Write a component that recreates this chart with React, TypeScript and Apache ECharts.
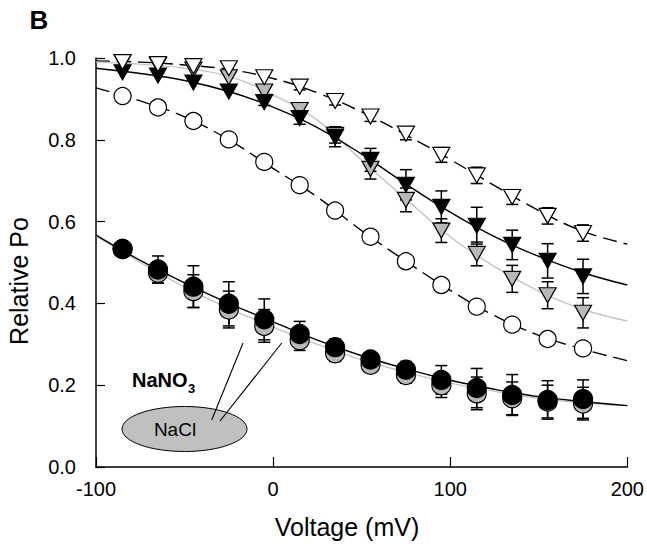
import React, { useEffect, useRef } from "react";
import * as echarts from "echarts";

// Voltages (mV) of measured points
const voltages = [-85, -65, -45, -25, -5, 15, 35, 55, 75, 95, 115, 135, 155, 175];

// Measured relative Po
const openTri = [0.99, 0.985, 0.98, 0.975, 0.953, 0.93, 0.895, 0.857, 0.815, 0.763, 0.713, 0.66, 0.614, 0.572];
const blackTri = [0.965, 0.957, 0.94, 0.918, 0.892, 0.853, 0.807, 0.751, 0.69, 0.636, 0.59, 0.543, 0.504, 0.466];
const grayTri = [0.99, 0.983, 0.972, 0.953, 0.918, 0.873, 0.812, 0.729, 0.653, 0.578, 0.521, 0.46, 0.42, 0.377];
const openCirc = [0.907, 0.879, 0.846, 0.801, 0.746, 0.689, 0.627, 0.563, 0.503, 0.445, 0.392, 0.348, 0.313, 0.29];
const blackCirc = [0.533, 0.483, 0.441, 0.399, 0.361, 0.325, 0.293, 0.263, 0.238, 0.213, 0.193, 0.176, 0.164, 0.166];
const grayCirc = [0.533, 0.475, 0.43, 0.385, 0.345, 0.31, 0.278, 0.25, 0.225, 0.2, 0.18, 0.168, 0.16, 0.155];

// Error bars (±)
const openTriErr = [0, 0, 0, 0, 0, 0.008, 0.01, 0.012, 0.015, 0.018, 0.02, 0.018, 0.02, 0.02];
const blackTriErr = [0, 0, 0, 0, 0.008, 0.015, 0.024, 0.028, 0.037, 0.039, 0.045, 0.036, 0.042, 0.042];
const grayTriErr = [0, 0, 0, 0, 0.008, 0.012, 0.02, 0.025, 0.029, 0.029, 0.029, 0.033, 0.033, 0.037];
const blackCircErr = [0, 0.033, 0.051, 0.054, 0.05, 0.031, 0.02, 0.015, 0.02, 0.035, 0.048, 0.05, 0.047, 0.047];
const grayCircErr = [0, 0.025, 0.04, 0.045, 0.04, 0.025, 0.02, 0.015, 0.02, 0.03, 0.04, 0.04, 0.04, 0.04];

// Fitted curves
const fitX = [-100, -75, -50, -25, 0, 25, 50, 75, 100, 125, 150, 175, 200];
const openTriFit = [0.993, 0.99, 0.983, 0.972, 0.95, 0.915, 0.868, 0.812, 0.752, 0.688, 0.627, 0.576, 0.545];
const blackTriFit = [0.975, 0.962, 0.945, 0.918, 0.88, 0.83, 0.765, 0.692, 0.623, 0.563, 0.515, 0.475, 0.445];
const grayTriFit = [0.99, 0.985, 0.975, 0.955, 0.91, 0.848, 0.75, 0.655, 0.563, 0.49, 0.43, 0.385, 0.357];
const openCircFit = [0.927, 0.895, 0.856, 0.8, 0.73, 0.66, 0.578, 0.503, 0.432, 0.37, 0.322, 0.288, 0.26];
const blackCircFit = [0.567, 0.505, 0.45, 0.4, 0.355, 0.31, 0.272, 0.24, 0.212, 0.19, 0.172, 0.16, 0.15];
const grayCircFit = [0.565, 0.5, 0.44, 0.388, 0.342, 0.3, 0.262, 0.232, 0.205, 0.185, 0.168, 0.157, 0.15];

const FONT = "'Liberation Sans', Arial, Helvetica, sans-serif";
const GRAY = "#b8b8b8";

const pairs = (xs: number[], ys: number[]) => xs.map((x, i) => [x, ys[i]]);
const errData = (ys: number[], es: number[]) =>
  voltages
    .map((x, i) => [x, ys[i] - es[i], ys[i] + es[i], es[i]])
    .filter((d) => d[3] > 0);

const errSeries = (name: string, ys: number[], es: number[], z: number) => ({
  name,
  type: "custom",
  z,
  renderItem: (params: any, api: any) => {
    const x = api.value(0);
    const lo = api.coord([x, api.value(1)]);
    const hi = api.coord([x, api.value(2)]);
    const hw = 6;
    const st = { stroke: "#000", lineWidth: 1.5 };
    return {
      type: "group",
      children: [
        { type: "line", shape: { x1: hi[0], y1: hi[1], x2: lo[0], y2: lo[1] }, style: st },
        { type: "line", shape: { x1: hi[0] - hw, y1: hi[1], x2: hi[0] + hw, y2: hi[1] }, style: st },
        { type: "line", shape: { x1: lo[0] - hw, y1: lo[1], x2: lo[0] + hw, y2: lo[1] }, style: st },
      ],
    };
  },
  data: errData(ys, es),
  silent: true,
});

const fitSeries = (name: string, ys: number[], color: string, dashed: boolean, z: number) => ({
  name,
  type: "line",
  smooth: 0.4,
  symbol: "none",
  z,
  lineStyle: { color, width: 1.4, type: dashed ? [14, 7] : "solid" },
  data: pairs(fitX, ys),
  silent: true,
});

const markSeries = (
  name: string,
  ys: number[],
  symbol: string,
  size: number | number[],
  fill: string,
  z: number
) => ({
  name,
  type: "scatter",
  symbol,
  symbolSize: size,
  symbolRotate: symbol === "triangle" ? 180 : 0,
  z,
  itemStyle: { color: fill, borderColor: "#000", borderWidth: 1.2, opacity: 1 },
  data: pairs(voltages, ys),
});

export default function App() {
  const ref = useRef<HTMLDivElement>(null);
  useEffect(() => {
    if (!ref.current) return;
    document.body.style.margin = "0";
    const chart = echarts.init(ref.current, undefined, { renderer: "svg" });
    chart.setOption({
      animation: false,
      backgroundColor: "#fff",
      grid: { left: 96, right: 16, top: 58, bottom: 81, containLabel: false },
      xAxis: {
        type: "value",
        min: -100,
        max: 200,
        interval: 100,
        axisLine: { show: true, onZero: false, lineStyle: { color: "#000", width: 1.5 } },
        axisTick: { show: true, inside: true, length: 10, lineStyle: { color: "#000", width: 1.2 } },
        axisLabel: { color: "#000", fontSize: 20, fontFamily: FONT, margin: 12 },
        splitLine: { show: false },
      },
      yAxis: {
        type: "value",
        min: 0,
        max: 1,
        interval: 0.2,
        axisLine: { show: true, onZero: false, lineStyle: { color: "#000", width: 1.5 } },
        axisTick: { show: true, inside: true, length: 9, lineStyle: { color: "#000", width: 1.2 } },
        axisLabel: {
          color: "#000",
          fontSize: 20,
          fontFamily: FONT,
          margin: 20,
          formatter: (v: number) => v.toFixed(1),
        },
        splitLine: { show: false },
      },
      series: [
        fitSeries("open-triangle fit", openTriFit, "#000", true, 2),
        fitSeries("gray-triangle fit", grayTriFit, "#c4c4c4", false, 2),
        fitSeries("black-triangle fit", blackTriFit, "#000", false, 2),
        fitSeries("open-circle fit", openCircFit, "#000", true, 2),
        fitSeries("gray-circle fit", grayCircFit, "#c4c4c4", false, 2),
        fitSeries("black-circle fit", blackCircFit, "#000", false, 2),
        errSeries("gray-triangle err", grayTri, grayTriErr, 3),
        errSeries("black-triangle err", blackTri, blackTriErr, 3),
        errSeries("open-triangle err", openTri, openTriErr, 3),
        errSeries("gray-circle err", grayCirc, grayCircErr, 3),
        errSeries("black-circle err", blackCirc, blackCircErr, 3),
        markSeries("gray triangles", grayTri, "triangle", [17, 15], GRAY, 4),
        markSeries("black triangles", blackTri, "triangle", [17, 15], "#000", 5),
        markSeries("open triangles", openTri, "triangle", [17, 15], "#fff", 6),
        markSeries("gray circles", grayCirc, "circle", 19, GRAY, 4),
        markSeries("black circles", blackCirc, "circle", 19, "#000", 5),
        markSeries("open circles", openCirc, "circle", 17, "#fff", 6),
      ],
      graphic: [
        {
          type: "text",
          x: 39,
          y: 20,
          style: { text: "B", fontSize: 26, fontWeight: "bold", fontFamily: FONT, fill: "#000", align: "center", verticalAlign: "middle" },
        },
        {
          type: "text",
          x: 19,
          y: 281,
          rotation: Math.PI / 2,
          style: { text: "Relative Po", fontSize: 25, fontFamily: FONT, fill: "#000", align: "center", verticalAlign: "middle" },
        },
        {
          type: "text",
          x: 347,
          y: 527,
          style: { text: "Voltage (mV)", fontSize: 25, fontFamily: FONT, fill: "#000", align: "center", verticalAlign: "middle" },
        },
        {
          type: "line",
          shape: { x1: 243, y1: 343, x2: 211.7, y2: 420 },
          style: { stroke: "#000", lineWidth: 1.1 },
          z: 10,
        },
        {
          type: "line",
          shape: { x1: 281.7, y1: 343, x2: 220, y2: 421 },
          style: { stroke: "#000", lineWidth: 1.1 },
          z: 10,
        },
        {
          type: "ellipse",
          shape: { cx: 184.5, cy: 429, rx: 62.5, ry: 22.5 },
          style: { fill: "#c0c0c0", stroke: "#000", lineWidth: 1 },
          z: 9,
        },
        {
          type: "text",
          x: 175,
          y: 429,
          z: 12,
          style: { text: "NaCl", fontSize: 19, fontFamily: FONT, fill: "#000", align: "center", verticalAlign: "middle" },
        },
        {
          type: "text",
          x: 132,
          y: 380,
          z: 12,
          style: { text: "NaNO", fontSize: 20, fontWeight: "bold", fontFamily: FONT, fill: "#000", align: "left", verticalAlign: "middle" },
        },
        {
          type: "text",
          x: 188,
          y: 388,
          z: 12,
          style: { text: "3", fontSize: 13, fontWeight: "bold", fontFamily: FONT, fill: "#000", align: "left", verticalAlign: "middle" },
        },
      ],
    });
    return () => chart.dispose();
  }, []);
  return <div ref={ref} style={{ width: 647, height: 548 }} />;
}
